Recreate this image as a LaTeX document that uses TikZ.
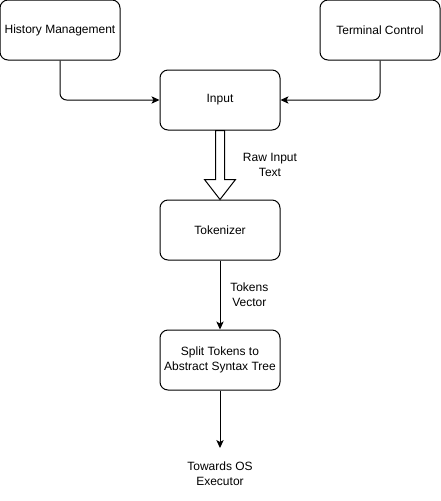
\documentclass[tikz,border=0pt]{standalone}
\usepackage{fontspec}
\setmainfont{Liberation Sans}
\usetikzlibrary{positioning, arrows, arrows.meta, calc}

\begin{document}
\begin{tikzpicture}[x=0.75pt, y=-0.75pt, every node/.style={font=\fontsize{9}{11}\selectfont},
  block/.style={draw, line width=0.75pt, rounded corners=6pt, minimum width=90pt, minimum height=45pt, align=center, inner sep=0pt},
  link/.style={line width=0.75pt, -{Stealth[length=6pt, width=5.5pt, inset=1.5pt]}}]
\useasboundingbox (0, 0) rectangle (441, 501);
% Define the nodes
\node[block] (hist) at (60, 30) {History Management};
\node[block] (term) at (380, 30) {Terminal Control};
\node[block] (input) at (220, 100) {Input};
\node[block] (tok) at (220, 230) {Tokenizer};
\node[block] (ast) at (220, 360) {Split Tokens to\\Abstract Syntax Tree};
\coordinate (exec) at (220, 448);
\node[align=center] (execlabel) at (220, 474) {Towards OS\\Executor};

% Draw the maps
% side inputs into Input
\draw[link, rounded corners=5pt] (hist.south) |- (input.west);
\draw[link, rounded corners=5pt] (term.south) |- (input.east);

% Input to Tokenizer (hollow block arrow)
\draw[line width=0.75pt, fill=white] ($(input.south)+(-4.5,0)$) -- ($(input.south)+(4.5,0)$)
  -- ($(tok.north)+(4.5,-20)$) -- ($(tok.north)+(15.5,-20)$) -- (tok.north)
  -- ($(tok.north)+(-15.5,-20)$) -- ($(tok.north)+(-4.5,-20)$) -- cycle;
\node[align=center] (rawlabel) at (270, 165) {Raw Input\\Text};

% Tokenizer to AST
\draw[link] (tok) -- node[right=4pt, align=center] {Tokens\\Vector} (ast);

% AST onwards
\draw[link] (ast) -- (exec);
\end{tikzpicture}
\end{document}
